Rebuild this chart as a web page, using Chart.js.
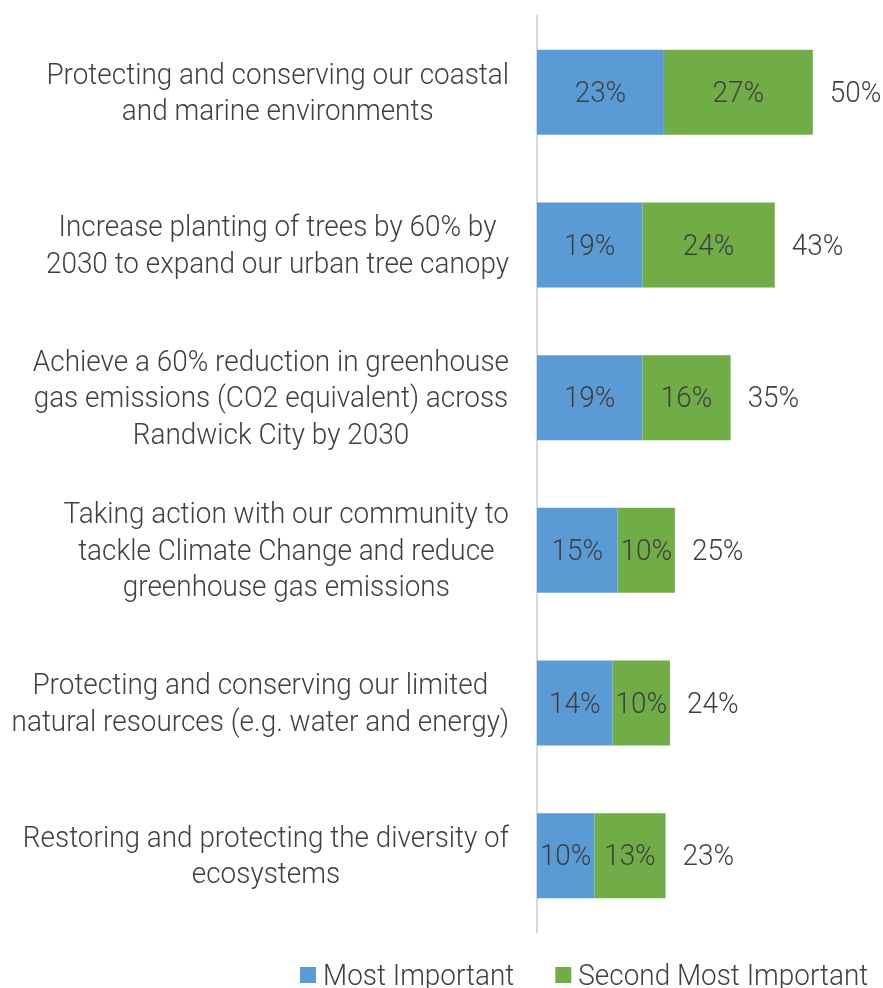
<!DOCTYPE html>
<html>
<head>
<meta charset="utf-8">
<script src="https://cdn.jsdelivr.net/npm/chart.js@4.4.0/dist/chart.umd.min.js"></script>
<style>
  html, body { margin: 0; padding: 0; background: #fff; }
  #wrap { width: 883px; height: 988px; }
</style>
</head>
<body>
<div id="wrap"><canvas id="chart"></canvas></div>
<script>
// Chart data
const categories = [
    ['Protecting and conserving our coastal', 'and marine environments'],
    ['Increase planting of trees by 60% by', '2030 to expand our urban tree canopy'],
    ['Achieve a 60% reduction in greenhouse', 'gas emissions (CO2 equivalent) across', 'Randwick City by 2030'],
    ['Taking action with our community to', 'tackle Climate Change and reduce', 'greenhouse gas emissions'],
    ['Protecting and conserving our limited', 'natural resources (e.g. water and energy)'],
    ['Restoring and protecting the diversity of', 'ecosystems']
];
const mostImportant = [23, 19.1, 19.1, 14.6, 13.7, 10.4];
const secondImportant = [27, 24, 16, 10.4, 10.4, 12.9];
const seriesNames = ['Most Important', 'Second Most Important'];
const seriesColors = ['#5B9BD5', '#70AD47'];

const textColor = '#404040';
const fontFamily = 'Roboto, "DejaVu Sans", sans-serif';
const FONT = '300 30px ' + fontFamily;
const SQUEEZE = 0.93; // the original font is a narrow one
const TEXT_DY = 2;

// draw text squeezed horizontally, anchored by align at x
function drawText(ctx, text, x, y, align) {
    const w = ctx.measureText(text).width * SQUEEZE;
    let left = x;
    if (align === 'center') left = x - w / 2;
    if (align === 'right') left = x - w;
    ctx.save();
    ctx.translate(left, y + TEXT_DY);
    ctx.scale(SQUEEZE, 1);
    ctx.textAlign = 'left';
    ctx.fillText(text, 0, 0);
    ctx.restore();
    return w;
}

// Category labels: block right-aligned at the axis, lines centered in the block
const categoryLabels = {
    id: 'categoryLabels',
    afterDraw(chart) {
        const ctx = chart.ctx;
        const yScale = chart.scales.y;
        const right = chart.chartArea.left - 28;
        const lineH = 36.5;
        ctx.save();
        ctx.font = FONT;
        ctx.fillStyle = textColor;
        ctx.textBaseline = 'middle';
        categories.forEach((lines, i) => {
            const cy = yScale.getPixelForValue(i);
            const widths = lines.map(l => ctx.measureText(l).width * SQUEEZE);
            const blockW = Math.max(...widths);
            const cx = right - blockW / 2;
            lines.forEach((l, k) => {
                const y = cy + (k - (lines.length - 1) / 2) * lineH;
                drawText(ctx, l, cx, y, 'center');
            });
        });
        ctx.restore();
    }
};

// Value labels inside bars and totals past the end of each bar
const valueLabels = {
    id: 'valueLabels',
    afterDatasetsDraw(chart) {
        const ctx = chart.ctx;
        ctx.save();
        ctx.font = FONT;
        ctx.fillStyle = textColor;
        ctx.textBaseline = 'middle';
        chart.data.datasets.forEach((ds, i) => {
            const meta = chart.getDatasetMeta(i);
            meta.data.forEach((bar, j) => {
                const x = (bar.x + bar.base) / 2;
                drawText(ctx, Math.round(ds.data[j]) + '%', x, bar.y, 'center');
            });
        });
        const last = chart.getDatasetMeta(chart.data.datasets.length - 1);
        last.data.forEach((bar, j) => {
            const total = Math.round(mostImportant[j] + secondImportant[j]);
            drawText(ctx, total + '%', bar.x + 17, bar.y, 'left');
        });
        ctx.restore();
    }
};

// Legend at the bottom
const bottomLegend = {
    id: 'bottomLegend',
    afterDraw(chart) {
        const ctx = chart.ctx;
        const y = chart.height - 13;
        const box = 16, gapText = 7, gapItem = 41;
        ctx.save();
        ctx.font = FONT;
        ctx.textBaseline = 'middle';
        const items = chart.data.datasets.map(ds => ({
            label: ds.label, color: ds.backgroundColor,
            w: box + gapText + ctx.measureText(ds.label).width * SQUEEZE
        }));
        let x = 300;
        items.forEach(it => {
            ctx.fillStyle = it.color;
            ctx.fillRect(x, y - box / 2, box, box);
            ctx.fillStyle = textColor;
            drawText(ctx, it.label, x + box + gapText, y, 'left');
            x += it.w + gapItem;
        });
        ctx.restore();
    }
};

new Chart(document.getElementById('chart'), {
    type: 'bar',
    data: {
        labels: categories.map(c => c.join(' ')),
        datasets: [
            {
                label: seriesNames[0],
                data: mostImportant,
                backgroundColor: seriesColors[0],
                categoryPercentage: 0.557,
                barPercentage: 1.0
            },
            {
                label: seriesNames[1],
                data: secondImportant,
                backgroundColor: seriesColors[1],
                categoryPercentage: 0.557,
                barPercentage: 1.0
            }
        ]
    },
    options: {
        indexAxis: 'y',
        responsive: true,
        maintainAspectRatio: false,
        animation: false,
        layout: { padding: { top: 16, right: 15, left: 537, bottom: 56 } },
        scales: {
            x: {
                stacked: true,
                min: 0,
                max: 60,
                display: false
            },
            y: {
                stacked: true,
                grid: { display: false, drawTicks: false },
                border: { display: true, color: '#d9d9d9', width: 2 },
                ticks: { display: false }
            }
        },
        plugins: {
            legend: { display: false },
            tooltip: { enabled: false }
        }
    },
    plugins: [valueLabels, categoryLabels, bottomLegend]
});
</script>
</body>
</html>
